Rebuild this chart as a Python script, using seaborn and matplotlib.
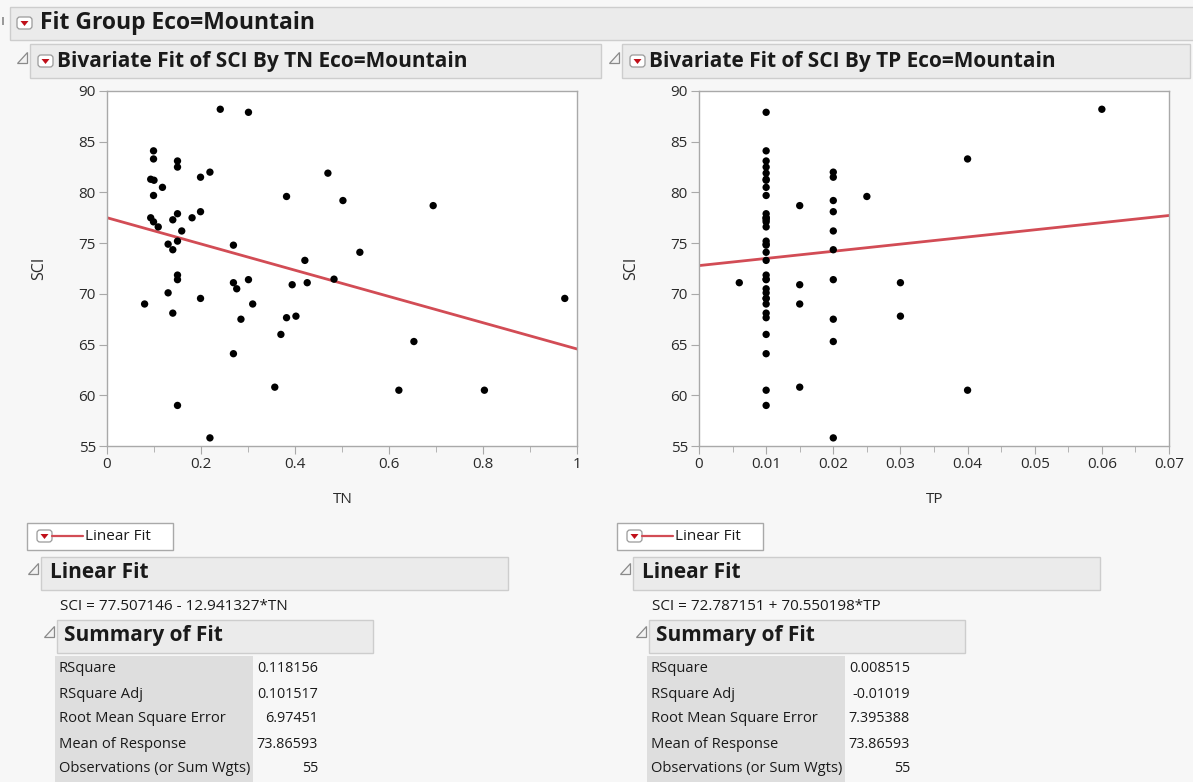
import numpy as np
import pandas as pd
import matplotlib
matplotlib.use("Agg")
import matplotlib.pyplot as plt
import seaborn as sns
from matplotlib.patches import Rectangle, Polygon, FancyBboxPatch
from matplotlib.ticker import MultipleLocator

# ---------------------------------------------------------------- data
tn = [0.241, 0.301, 0.099, 0.099, 0.150, 0.150, 0.093, 0.100, 0.199, 0.219,
      0.118, 0.099, 0.470, 0.382, 0.502, 0.093, 0.099, 0.109, 0.140, 0.150,
      0.181, 0.199, 0.159, 0.130, 0.140, 0.150, 0.269, 0.538, 0.150, 0.150,
      0.269, 0.276, 0.301, 0.130, 0.199, 0.080, 0.140, 0.310, 0.285, 0.382,
      0.402, 0.394, 0.421, 0.426, 0.483, 0.370, 0.269, 0.357, 0.150, 0.219,
      0.694, 0.974, 0.653, 0.621, 0.803]
tp = [0.06, 0.01, 0.01, 0.04, 0.01, 0.01, 0.01, 0.01, 0.02, 0.02,
      0.01, 0.01, 0.01, 0.025, 0.02, 0.01, 0.01, 0.01, 0.01, 0.01,
      0.01, 0.02, 0.02, 0.01, 0.02, 0.01, 0.01, 0.01, 0.01, 0.01,
      0.006, 0.01, 0.02, 0.01, 0.01, 0.015, 0.01, 0.01, 0.02, 0.01,
      0.03, 0.015, 0.01, 0.03, 0.01, 0.01, 0.01, 0.015, 0.01, 0.02,
      0.015, 0.01, 0.02, 0.04, 0.01]
sci = [88.2, 87.9, 84.1, 83.3, 83.1, 82.5, 81.3, 81.2, 81.5, 82.0,
       80.5, 79.7, 81.9, 79.6, 79.2, 77.5, 77.1, 76.6, 77.3, 77.9,
       77.5, 78.1, 76.2, 74.9, 74.35, 75.2, 74.8, 74.1, 71.85, 71.4,
       71.1, 70.5, 71.4, 70.1, 69.55, 69.0, 68.1, 69.0, 67.5, 67.65,
       67.8, 70.9, 73.3, 71.1, 71.45, 66.0, 64.1, 60.8, 59.0, 55.8,
       78.7, 69.55, 65.3, 60.5, 60.5]

predictors = ["TN", "TP"]
intercepts = [77.507146, 72.787151]
slopes = [-12.941327, 70.550198]
x_max = [1.0, 0.07]
x_major = [0.2, 0.01]
x_minor = [0.1, 0.005]
x_ticklabels = [["0", "0.2", "0.4", "0.6", "0.8", "1"],
                ["0", "0.01", "0.02", "0.03", "0.04", "0.05", "0.06", "0.07"]]
equations = ["SCI = 77.507146 - 12.941327*TN", "SCI = 72.787151 + 70.550198*TP"]

summary_labels = ["RSquare", "RSquare Adj", "Root Mean Square Error",
                  "Mean of Response", "Observations (or Sum Wgts)"]
summary_tn = ["0.118156", "0.101517", "6.97451", "73.86593", "55"]
summary_tp = ["0.008515", "-0.01019", "7.395388", "73.86593", "55"]

df = pd.DataFrame({"TN": tn, "TP": tp, "SCI": sci})

# ---------------------------------------------------------------- style
sns.set_style("white")
plt.rcParams["font.family"] = ["Open Sans", "DejaVu Sans"]

W, H = 1193, 782
BG = "#f7f7f7"
BAR = "#ebebeb"
EDGE = "#cdcdcd"
TXT = "#1a1a1a"
RED = "#d24c55"
HEAD = 15     # bold outline titles
SMALL = 11    # report text

fig = plt.figure(figsize=(W / 100, H / 100), dpi=100, facecolor=BG)
bg = fig.add_axes([0, 0, 1, 1], zorder=0)
bg.set_xlim(0, W)
bg.set_ylim(H, 0)
bg.axis("off")


def bar(x0, y0, x1, y1):
    bg.add_patch(Rectangle((x0, y0), x1 - x0, y1 - y0, facecolor=BAR,
                           edgecolor=EDGE, lw=1))


def disclosure(x, y):
    # small grey "open" triangle used by JMP outlines
    bg.add_patch(Polygon([(x, y + 11), (x + 10, y + 11), (x + 10, y)],
                         closed=True, facecolor="#f2f2f2", edgecolor="#8a8a8a", lw=0.9))


def red_button(x, y):
    bg.add_patch(FancyBboxPatch((x, y), 15, 12, boxstyle="round,pad=0,rounding_size=3",
                                facecolor="white", edgecolor="#9a9a9a", lw=0.9))
    bg.add_patch(Polygon([(x + 3.5, y + 4), (x + 11.5, y + 4), (x + 7.5, y + 9)],
                         closed=True, facecolor="#c0101a", edgecolor="none"))


# top group header
bar(10, 7, W + 5, 40)
bg.add_patch(Rectangle((2, 17), 2, 8, facecolor="#9a9a9a", edgecolor="none"))
red_button(17, 17)
bg.text(40, 23, "Fit Group Eco=Mountain", fontsize=16.5, fontweight="bold",
        color=TXT, va="center")

offsets = [0, 592]
for i, pred in enumerate(predictors):
    dx = offsets[i]

    # bivariate header
    disclosure(17 + dx, 52)
    bar(30 + dx, 44, 601 + dx - (3 if i else 0), 78)
    red_button(38 + dx, 55)
    bg.text(57 + dx, 61, f"Bivariate Fit of SCI By {pred} Eco=Mountain",
            fontsize=HEAD, fontweight="bold", color=TXT, va="center")

    # scatter plot
    ax = fig.add_axes([(107 + dx) / W, 1 - 446 / H, 470 / W, 355 / H], zorder=2)
    ax.set_facecolor("white")
    sns.scatterplot(data=df, x=pred, y="SCI", color="black", s=28,
                    edgecolor="none", ax=ax, zorder=3)
    xs = np.array([0.0, x_max[i]])
    fit = pd.DataFrame({pred: xs, "SCI": intercepts[i] + slopes[i] * xs})
    sns.lineplot(data=fit, x=pred, y="SCI", color=RED, lw=2, ax=ax, zorder=2)

    ax.set_xlim(0, x_max[i])
    ax.set_ylim(55, 90)
    ax.xaxis.set_minor_locator(MultipleLocator(x_minor[i]))
    ax.yaxis.set_major_locator(MultipleLocator(5))
    ax.set_xticks(np.arange(0, x_max[i] + 1e-9, x_major[i]))
    ax.set_xticklabels(x_ticklabels[i])
    for s in ax.spines.values():
        s.set_color("#a9a9a9")
        s.set_linewidth(1)
    ax.tick_params(axis="both", which="major", direction="out", length=6,
                   color="#a9a9a9", labelsize=11, labelcolor="#2a2a2a", pad=2,
                   bottom=True, left=True)
    ax.tick_params(axis="x", which="minor", direction="out", length=4,
                   color="#a9a9a9", bottom=True)
    ax.set_xlabel(pred, fontsize=11, color="#2a2a2a")
    ax.set_ylabel("SCI", fontsize=11.5, color="#2a2a2a")
    ax.xaxis.set_label_coords(0.502, -0.13)
    ax.yaxis.set_label_coords(-0.128, 0.5)

    # legend box "Linear Fit"
    lx = 27 + dx - (2 if i else 0)
    bg.add_patch(Rectangle((lx, 523), 146, 27, facecolor="white",
                           edgecolor="#a9a9a9", lw=1))
    red_button(lx + 10, 530)
    bg.plot([lx + 25, lx + 56], [536, 536], color=RED, lw=1.6)
    bg.text(lx + 58, 537, "Linear Fit", fontsize=SMALL, color=TXT, va="center")

    # Linear Fit outline
    disclosure(28 + dx, 563)
    bar(41 + dx, 557, 508 + dx, 590)
    bg.text(50 + dx, 573, "Linear Fit", fontsize=HEAD, fontweight="bold",
            color=TXT, va="center")
    bg.text(60 + dx, 606, equations[i], fontsize=SMALL, color=TXT, va="center")

    # Summary of Fit outline
    disclosure(44 + dx, 626)
    bar(57 + dx, 620, 373 + dx, 653)
    bg.text(64 + dx, 636, "Summary of Fit", fontsize=HEAD, fontweight="bold",
            color=TXT, va="center")

    bg.add_patch(Rectangle((55 + dx, 656), 198, 130, facecolor="#dedede",
                           edgecolor="none"))
    vals = summary_tn if i == 0 else summary_tp
    for r, (lab, val) in enumerate(zip(summary_labels, vals)):
        y = 669 + r * 25
        bg.text(59 + dx, y, lab, fontsize=10.6, color=TXT, va="center")
        bg.text(318 + dx, y, val, fontsize=10.4, color=TXT, va="center", ha="right")

fig.savefig("out.png", dpi=100, facecolor=BG)
plt.close("all")
